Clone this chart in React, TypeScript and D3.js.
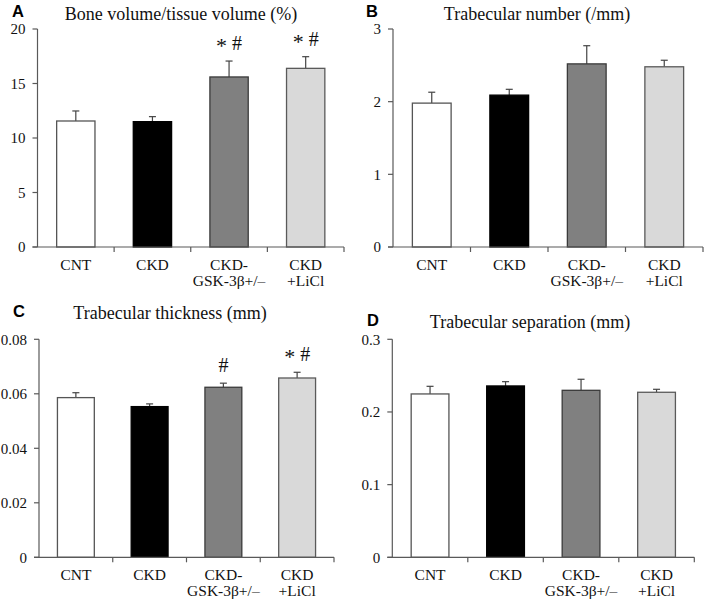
import React from 'react';
import * as d3 from 'd3';

// group labels (two lines each)
const groups = ['CNT', 'CKD', 'CKD-GSK', 'CKD+LiCl'];
const groupLines = [['CNT'], ['CKD'], ['CKD-', 'GSK-3β+/–'], ['CKD', '+LiCl']];
const fills = ['#ffffff', '#000000', '#808080', '#d9d9d9'];
const strokes = ['#555555', '#000000', '#3a3a3a', '#5a5a5a'];

// A: Bone volume / tissue volume
const bvtvMean = [11.56, 11.5, 15.6, 16.39];
const bvtvErr = [0.92, 0.46, 1.46, 1.07];
const bvtvTicks = [0, 5, 10, 15, 20];
const bvtvMarks = ['', '', '* #', '* #'];

// B: Trabecular number
const tbnMean = [1.98, 2.09, 2.52, 2.48];
const tbnErr = [0.15, 0.08, 0.25, 0.09];
const tbnTicks = [0, 1, 2, 3];
const tbnMarks = ['', '', '', ''];

// C: Trabecular thickness
const tbthMean = [0.0586, 0.0553, 0.0624, 0.0658];
const tbthErr = [0.0018, 0.001, 0.0015, 0.0021];
const tbthTicks = [0, 0.02, 0.04, 0.06, 0.08];
const tbthMarks = ['', '', '#', '* #'];

// D: Trabecular separation
const tbspMean = [0.2248, 0.2358, 0.2298, 0.2271];
const tbspErr = [0.0105, 0.0059, 0.0152, 0.0041];
const tbspTicks = [0, 0.1, 0.2, 0.3];
const tbspMarks = ['', '', '', ''];

const panels = [
  { letter: 'A', title: 'Bone volume/tissue volume (%)', mean: bvtvMean, err: bvtvErr, ticks: bvtvTicks, marks: bvtvMarks,
    x0: 37.5, x1: 344, y0: 247, y1: 29, lx: 12, ly: 17, tx: 181, ty: 20 },
  { letter: 'B', title: 'Trabecular number (/mm)', mean: tbnMean, err: tbnErr, ticks: tbnTicks, marks: tbnMarks,
    x0: 393, x1: 703, y0: 247, y1: 29, lx: 366, ly: 17, tx: 537, ty: 20 },
  { letter: 'C', title: 'Trabecular thickness (mm)', mean: tbthMean, err: tbthErr, ticks: tbthTicks, marks: tbthMarks,
    x0: 39, x1: 334, y0: 557.3, y1: 339.3, lx: 13, ly: 317, tx: 170, ty: 319 },
  { letter: 'D', title: 'Trabecular separation (mm)', mean: tbspMean, err: tbspErr, ticks: tbspTicks, marks: tbspMarks,
    x0: 392.3, x1: 694.3, y0: 557.3, y1: 339.3, lx: 367, ly: 326, tx: 530, ty: 328 },
];

const serif = '"Liberation Serif", "Times New Roman", serif';
const sans = '"Liberation Sans", Arial, sans-serif';
const axisColor = '#595959';

function Panel({ p }: { p: typeof panels[0] }) {
  const x = d3.scaleBand().domain(groups).range([p.x0, p.x1]).paddingInner(0.5).paddingOuter(0.25);
  const yMax = p.ticks[p.ticks.length - 1];
  const y = d3.scaleLinear().domain([0, yMax]).range([p.y0, p.y1]);
  const bw = x.bandwidth();
  const step = x.step();
  const bounds = groups.map((g, i) => p.x0 + step * (i + 1));

  return (
    <g>
      <text x={p.lx} y={p.ly} fontFamily={sans} fontWeight="bold" fontSize={16.5} fill="#000">{p.letter}</text>
      <text x={p.tx} y={p.ty} fontFamily={serif} fontSize={18} textAnchor="middle" fill="#111">{p.title}</text>

      {groups.map((g, i) => {
        const bx = x(g)!;
        const cx = bx + bw / 2;
        const top = y(p.mean[i]);
        const et = y(p.mean[i] + p.err[i]);
        return (
          <g key={g}>
            <line x1={cx} x2={cx} y1={top} y2={et} stroke="#444" strokeWidth={1.2} />
            <line x1={cx - 3.5} x2={cx + 3.5} y1={et} y2={et} stroke="#444" strokeWidth={1.2} />
            <rect x={bx} y={top} width={bw} height={p.y0 - top} fill={fills[i]} stroke={strokes[i]} strokeWidth={1.3} />
            {p.marks[i] && (
              <text x={cx} y={et - 11} fontFamily={serif} fontSize={20} textAnchor="middle" fill="#111">
                {p.marks[i].split(' ').map((m, k) => (
                  <tspan key={k} fontSize={m === '*' ? 22 : 20} dy={m === '*' ? 3 : -3 * (k > 0 && p.marks[i].includes('*') ? 1 : 0)}>{(k > 0 ? ' ' : '') + m}</tspan>
                ))}
              </text>
            )}
            {groupLines[i].map((ln, k) => (
              <text key={k} x={cx} y={p.y0 + 23 + k * 15.5} fontFamily={serif} fontSize={15.5} textAnchor="middle" fill="#111">{ln}</text>
            ))}
          </g>
        );
      })}

      {/* y axis */}
      <line x1={p.x0} x2={p.x0} y1={p.y1} y2={p.y0} stroke={axisColor} strokeWidth={1.2} />
      {p.ticks.map((t) => (
        <g key={t}>
          <line x1={p.x0 - 5} x2={p.x0} y1={y(t)} y2={y(t)} stroke={axisColor} strokeWidth={1.2} />
          <text x={p.x0 - 12} y={y(t)} dy="0.35em" fontFamily={serif} fontSize={15} textAnchor="end" fill="#111">{String(t)}</text>
        </g>
      ))}

      {/* x axis */}
      <line x1={p.x0 - 5} x2={p.x1} y1={p.y0} y2={p.y0} stroke={axisColor} strokeWidth={1.2} />
      {bounds.map((bx, i) => (
        <line key={i} x1={bx} x2={bx} y1={p.y0} y2={p.y0 + 5} stroke={axisColor} strokeWidth={1.2} />
      ))}
    </g>
  );
}

export default function App() {
  return (
    <svg width={709} height={601} style={{ position: 'absolute', left: 0, top: 0, background: '#fff' }}>
      <rect width={709} height={601} fill="#fff" />
      {panels.map((p) => <Panel key={p.letter} p={p} />)}
    </svg>
  );
}
